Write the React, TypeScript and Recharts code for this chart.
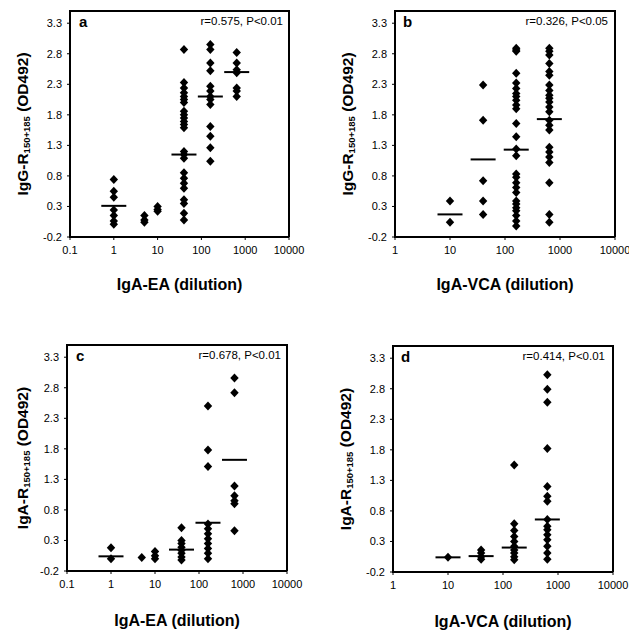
import { ScatterChart, Scatter, XAxis, YAxis } from 'recharts'

// dilution columns (x values)
const eaDilutions = [1, 5, 10, 40, 160, 640]
const vcaDilutions = [10, 40, 160, 640]

const eaTicks = [0.1, 1, 10, 100, 1000, 10000]
const vcaTicks = [1, 10, 100, 1000, 10000]
const yTicks = [-0.2, 0.3, 0.8, 1.3, 1.8, 2.3, 2.8, 3.3]
const yMax = 3.5

// panel a: IgG-R vs IgA-EA
const aValues = [
  [0.74, 0.55, 0.45, 0.24, 0.15, 0.06, 0.01],
  [0.15, 0.08, 0.04],
  [0.3, 0.25, 0.22],
  [2.87, 2.33, 2.24, 2.16, 2.1, 2.05, 2.0, 1.86, 1.8, 1.75, 1.69, 1.64, 1.59, 1.2, 1.15, 1.09, 0.85, 0.76, 0.68, 0.6, 0.41, 0.35, 0.19, 0.08],
  [2.95, 2.87, 2.65, 2.52, 2.27, 2.19, 2.1, 2.05, 1.97, 1.61, 1.45, 1.26, 1.04],
  [2.82, 2.65, 2.54, 2.49, 2.24, 2.19, 2.1],
]
const aMeanX = [1, 40, 160, 640]
const aMeanY = [0.31, 1.15, 2.1, 2.5]

// panel b: IgG-R vs IgA-VCA
const bValues = [
  [0.39, 0.04],
  [2.29, 1.71, 0.72, 0.39, 0.17],
  [2.89, 2.86, 2.84, 2.48, 2.32, 2.23, 2.15, 2.1, 2.04, 1.96, 1.9, 1.66, 1.44, 1.24, 1.13, 0.83, 0.78, 0.69, 0.61, 0.53, 0.39, 0.34, 0.28, 0.23, 0.15, 0.06, -0.02],
  [2.89, 2.84, 2.78, 2.64, 2.51, 2.45, 2.29, 2.2, 2.12, 2.07, 2.01, 1.93, 1.85, 1.71, 1.63, 1.55, 1.27, 1.19, 1.11, 1.02, 0.69, 0.17, 0.04],
]
const bMeanX = [10, 40, 160, 640]
const bMeanY = [0.17, 1.07, 1.23, 1.73]

// panel c: IgA-R vs IgA-EA
const cValues = [
  [0.18, 0.0],
  [0.02],
  [0.12, 0.05, 0.0],
  [0.51, 0.3, 0.25, 0.19, 0.14, 0.09, 0.03, -0.02],
  [2.5, 1.78, 1.51, 0.57, 0.49, 0.41, 0.33, 0.25, 0.17, 0.09, 0.0],
  [2.96, 2.72, 1.19, 1.03, 0.95, 0.9, 0.46],
]
const cMeanX = [1, 40, 160, 640]
const cMeanY = [0.04, 0.15, 0.59, 1.62]

// panel d: IgA-R vs IgA-VCA
const dValues = [
  [0.04],
  [0.16, 0.11, 0.05, 0.01],
  [1.55, 0.59, 0.48, 0.38, 0.3, 0.22, 0.16, 0.11, 0.05, 0.0],
  [3.03, 2.79, 2.58, 1.82, 1.2, 1.04, 0.96, 0.66, 0.55, 0.49, 0.41, 0.33, 0.22, 0.11, 0.01],
]
const dMeanX = [10, 40, 160, 640]
const dMeanY = [0.04, 0.06, 0.2, 0.66]

const FONT = 'Arial, "Liberation Sans", sans-serif'
const Y_AXIS_W = 40
const X_AXIS_H = 22

function toPoints(xs: number[], cols: number[][]) {
  return xs.flatMap((x, i) => cols[i].map((y) => ({ x, y })))
}

function Diamond(props: any) {
  const { cx, cy } = props
  if (cx == null || cy == null) return null
  return (
    <polygon
      points={`${cx},${cy - 4.5} ${cx + 4.2},${cy} ${cx},${cy + 4.5} ${cx - 4.2},${cy}`}
      fill="#000"
    />
  )
}

function MeanBar(props: any) {
  const { cx, cy } = props
  if (cx == null || cy == null) return null
  return <line x1={cx - 12.5} x2={cx + 12.5} y1={cy} y2={cy} stroke="#000" strokeWidth={2} />
}

interface PanelProps {
  left: number
  top: number
  width: number
  height: number
  margin: { top: number; right: number; bottom: number; left: number }
  xTicks: number[]
  xs: number[]
  values: number[][]
  meanX: number[]
  meanY: number[]
  letter: string
  stat: string
  yMain: string
  xTitle: string
  titleX: number
  titleOffset: number
  letterPos: [number, number]
  statPos: [number, number]
}

function Bar({ l, t, w, h }: { l: number; t: number; w: number; h: number }) {
  return <div style={{ position: 'absolute', left: l, top: t, width: w, height: h, background: '#000' }} />
}

function Panel(p: PanelProps) {
  const points = toPoints(p.xs, p.values)
  const means = p.meanX.map((x, i) => ({ x, y: p.meanY[i] }))
  const xDomain = [p.xTicks[0], p.xTicks[p.xTicks.length - 1]]

  // plot-area frame, derived from the chart margins
  const fl = p.margin.left + Y_AXIS_W
  const ft = p.margin.top
  const fw = p.width - fl - p.margin.right
  const fh = p.height - p.margin.top - p.margin.bottom - X_AXIS_H

  const yTitle = (lp: any) => {
    const vb = lp.viewBox || {}
    const cy = (vb.y ?? 0) + (vb.height ?? 0) / 2
    const cx = p.titleX
    return (
      <text
        x={cx}
        y={cy}
        transform={`rotate(-90, ${cx}, ${cy})`}
        textAnchor="middle"
        dominantBaseline="central"
        fontFamily={FONT}
        fontWeight="bold"
        fontSize={15.5}
        fill="#000"
      >
        {p.yMain}
        <tspan fontSize={9.5} dy={4}>150+185</tspan>
        <tspan fontSize={15.5} dy={-4}> (OD492)</tspan>
      </text>
    )
  }

  return (
    <div style={{ position: 'absolute', left: p.left, top: p.top, width: p.width, height: p.height }}>
      <ScatterChart width={p.width} height={p.height} margin={p.margin}>
        <XAxis
          dataKey="x"
          type="number"
          scale="log"
          domain={xDomain}
          ticks={p.xTicks}
          allowDataOverflow
          tickFormatter={(v) => String(v)}
          tick={{ fontSize: 11, fill: '#000', fontFamily: FONT }}
          tickSize={3}
          tickMargin={6}
          axisLine={{ stroke: '#000', strokeWidth: 2 }}
          tickLine={{ stroke: '#000' }}
          height={X_AXIS_H}
          label={{
            value: p.xTitle,
            position: 'bottom',
            offset: p.titleOffset,
            style: { fontSize: 16, fontWeight: 'bold', fill: '#000', fontFamily: FONT },
          }}
        />
        <YAxis
          dataKey="y"
          type="number"
          domain={[-0.2, yMax]}
          ticks={yTicks}
          interval={0}
          allowDataOverflow
          tickFormatter={(v) => v.toFixed(1)}
          tick={{ fontSize: 11, fill: '#000', fontFamily: FONT }}
          tickSize={3}
          tickMargin={5}
          axisLine={{ stroke: '#000', strokeWidth: 2 }}
          tickLine={{ stroke: '#000' }}
          width={Y_AXIS_W}
          label={{ content: yTitle }}
        />
        <Scatter data={points} shape={Diamond} isAnimationActive={false} />
        <Scatter data={means} shape={MeanBar} isAnimationActive={false} />
      </ScatterChart>
      {/* frame round the plot area */}
      <Bar l={fl - 1} t={ft} w={2} h={fh + 1} />
      <Bar l={fl - 1} t={ft + fh - 1} w={fw + 1} h={2} />
      <Bar l={fl - 1} t={ft - 1} w={fw + 1} h={1.5} />
      <Bar l={fl + fw - 1} t={ft - 1} w={1.5} h={fh + 1} />
      <span
        style={{
          position: 'absolute',
          left: p.letterPos[0],
          top: p.letterPos[1],
          fontFamily: FONT,
          fontWeight: 'bold',
          fontSize: 15,
          lineHeight: '15px',
        }}
      >
        {p.letter}
      </span>
      <span
        style={{
          position: 'absolute',
          right: p.width - p.statPos[0],
          top: p.statPos[1],
          fontFamily: FONT,
          fontSize: 11.5,
          lineHeight: '12px',
          whiteSpace: 'nowrap',
        }}
      >
        {p.stat}
      </span>
    </div>
  )
}

export default function App() {
  return (
    <div style={{ position: 'absolute', left: 0, top: 0, width: 629, height: 634, background: '#fff' }}>
      <Panel
        left={0}
        top={0}
        width={314}
        height={310}
        margin={{ top: 11, right: 25, bottom: 51, left: 30 }}
        xTicks={eaTicks}
        xs={eaDilutions}
        values={aValues}
        meanX={aMeanX}
        meanY={aMeanY}
        letter="a"
        stat="r=0.575, P<0.01"
        yMain="IgG-R"
        xTitle="IgA-EA (dilution)"
        titleX={22}
        titleOffset={20}
        letterPos={[79, 14]}
        statPos={[283, 15]}
      />
      <Panel
        left={314}
        top={0}
        width={315}
        height={310}
        margin={{ top: 11, right: 14, bottom: 51, left: 41 }}
        xTicks={vcaTicks}
        xs={vcaDilutions}
        values={bValues}
        meanX={bMeanX}
        meanY={bMeanY}
        letter="b"
        stat="r=0.326, P<0.05"
        yMain="IgG-R"
        xTitle="IgA-VCA (dilution)"
        titleX={33}
        titleOffset={20}
        letterPos={[89, 14]}
        statPos={[294, 15]}
      />
      <Panel
        left={0}
        top={320}
        width={314}
        height={314}
        margin={{ top: 25, right: 27, bottom: 41, left: 27 }}
        xTicks={eaTicks}
        xs={eaDilutions}
        values={cValues}
        meanX={cMeanX}
        meanY={cMeanY}
        letter="c"
        stat="r=0.678, P<0.01"
        yMain="IgA-R"
        xTitle="IgA-EA (dilution)"
        titleX={22}
        titleOffset={22}
        letterPos={[76, 28]}
        statPos={[281, 29]}
      />
      <Panel
        left={314}
        top={320}
        width={315}
        height={314}
        margin={{ top: 26, right: 16, bottom: 40, left: 39 }}
        xTicks={vcaTicks}
        xs={vcaDilutions}
        values={dValues}
        meanX={dMeanX}
        meanY={dMeanY}
        letter="d"
        stat="r=0.414, P<0.01"
        yMain="IgA-R"
        xTitle="IgA-VCA (dilution)"
        titleX={31}
        titleOffset={22}
        letterPos={[87, 29]}
        statPos={[291, 30]}
      />
    </div>
  )
}
